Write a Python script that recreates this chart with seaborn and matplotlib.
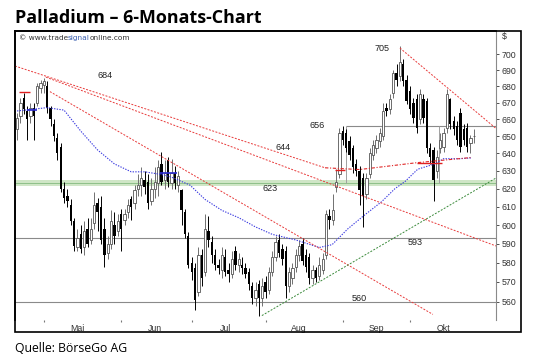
import numpy as np
import pandas as pd
import seaborn as sns
import matplotlib
matplotlib.use('Agg')
import matplotlib.pyplot as plt
from matplotlib.patches import Rectangle
from matplotlib.ticker import FixedLocator, NullLocator, FixedFormatter

# daily candles (USD), trading days from 19 Apr 2012
opens = [654, 662, 673, 665, 662, 667, 670, 679, 681, 680, 667, 657, 649, 644, 620, 616,
         611, 602, 588, 595, 588, 598, 592, 601, 612, 610, 598, 585, 590, 600, 597, 606,
         603, 607, 614, 612, 620, 622, 625, 624, 613, 620, 623, 634, 625, 636, 623, 629,
         622, 619, 607, 594, 580, 577, 565, 584, 575, 597, 591, 584, 579, 576, 583, 576,
         574, 586, 579, 579, 577, 575, 568, 562,
         569, 562, 570, 566, 575, 583, 592, 587, 586, 568, 572, 578, 584, 590, 584, 583,
         572, 576, 573, 576, 584, 605, 603, 621, 628, 653, 652, 647, 643, 634, 630, 626,
         617, 628, 639, 643, 647, 650, 667, 666,
         676, 688, 686, 694, 684, 677, 670, 672, 660, 672, 671, 643, 642, 630, 643, 644,
         655, 672, 659, 656, 664, 654, 655, 646, 650]
highs = [664, 673, 676, 668, 670, 670, 682, 684, 685, 683, 668, 660, 652, 646, 624, 620,
         614, 604, 598, 600, 602, 604, 604, 618, 615, 616, 604, 594, 608, 607, 606, 609,
         609, 614, 616, 622, 628, 632, 630, 628, 626, 632, 636, 641, 636, 638, 637, 633,
         630, 620, 609, 596, 583, 580, 588, 587, 606, 605, 594, 587, 582, 588, 587, 580,
         586, 589, 585, 583, 580, 577, 570, 570,
         571, 572, 573, 578, 586, 594, 595, 590, 589, 578, 580, 587, 592, 593, 587, 585,
         579, 578, 583, 585, 608, 609, 617, 631, 655, 656, 654, 650, 645, 637, 633, 629,
         629, 643, 648, 651, 655, 670, 670, 675,
         690, 694, 705, 697, 687, 680, 673, 675, 678, 675, 673, 646, 644, 642, 652, 655,
         678, 673, 662, 659, 667, 657, 658, 651, 654]
lows = [648, 658, 663, 648, 658, 648, 668, 676, 676, 664, 656, 647, 636, 618, 612, 610,
        600, 586, 586, 585, 584, 588, 590, 598, 597, 590, 578, 582, 587, 590, 594, 586,
        600, 604, 603, 609, 616, 616, 617, 609, 611, 615, 616, 622, 620, 621, 620, 620,
        618, 600, 593, 577, 571, 556, 563, 568, 573, 588, 580, 576, 574, 572, 573, 570,
        572, 576, 575, 574, 572, 566, 559, 558,
        553, 558, 562, 564, 573, 581, 583, 579, 562, 565, 569, 575, 581, 579, 575, 569,
        569, 570, 571, 574, 582, 598, 600, 618, 626, 645, 641, 636, 629, 627, 611, 599,
        614, 626, 636, 640, 644, 648, 662, 663,
        673, 680, 683, 680, 669, 663, 658, 652, 657, 658, 640, 634, 613, 626, 640, 641,
        652, 654, 651, 645, 641, 645, 641, 640, 646]
closes = [661, 670, 666, 660, 667, 662, 680, 682, 683, 667, 660, 650, 640, 620, 615, 613,
          602, 589, 593, 587, 597, 590, 598, 611, 607, 592, 584, 590, 602, 594, 602, 598,
          606, 611, 610, 619, 622, 626, 621, 612, 620, 624, 632, 624, 629, 624, 629, 623,
          627, 608, 595, 579, 575, 561, 584, 572, 598, 592, 584, 579, 577, 584, 575, 574,
          582, 579, 582, 577, 574, 569, 562, 566,
          562, 568, 565, 575, 583, 591, 585, 582, 568, 575, 577, 584, 589, 581, 578, 572,
          576, 572, 579, 582, 606, 603, 608, 624, 652, 648, 643, 639, 632, 630, 619, 616,
          626, 640, 645, 648, 652, 665, 665, 672,
          688, 684, 695, 683, 671, 666, 661, 655, 675, 661, 643, 638, 625, 638, 648, 652,
          675, 657, 654, 648, 644, 648, 644, 649, 650]

# indicator lines: (trading-day index, price)
blue_ma_x = [0, 9, 14, 19, 24, 29, 34, 38, 43, 46, 51.5, 56, 61, 66, 71, 76, 83, 90,
             93.8, 98.5, 103.5, 108.5, 112.5, 115.5, 119.3, 124.4, 127, 132, 135.5]
blue_ma_y = [665, 667, 665.5, 653, 642, 634, 629.5, 629.5, 628, 626.5, 622, 614, 608,
             604, 599, 595, 592, 588, 589.5, 598, 605.5, 612.7, 620, 624, 631, 634, 637,
             637, 637.5]
red_ma_x = [91.7, 102, 119, 135.4]
red_ma_y = [631.8, 630.8, 634.7, 637.7]
red_trend_x = [(-0.6, 91.7), (8.6, 142.6), (9.8, 123.8), (114, 142.6)]
red_trend_y = [(692.5, 631.8), (685.6, 588.8), (676.7, 553.6), (703.8, 654.6)]
green_trend_x = [72.9, 142.6]
green_trend_y = [553.0, 626.0]
support_levels = [593, 560]
band_level = 623
box_top = 656
box_x = [97.9, 125.6]

level_text = ['684', '656', '644', '705', '623', '593', '560']
level_text_x = [26.2, 89.3, 79.2, 108.6, 75.3, 118.5, 102]
level_text_y = [686.9, 656.6, 643.7, 703.2, 620.2, 590.8, 561.5]

month_names = ['Mai', 'Jun', 'Jul', 'Aug', 'Sep', 'Okt']
price_ticks = list(range(560, 701, 10))

sns.set_style('white')
plt.rcParams['font.family'] = ['Liberation Sans', 'DejaVu Sans']

W, H = 540, 358
fig = plt.figure(figsize=(W / 100, H / 100), dpi=100)
ax = fig.add_axes([15 / W, 1 - 320 / H, 481 / W, 289 / H])

o = np.array(opens, float)
h = np.array(highs, float)
l = np.array(lows, float)
c = np.array(closes, float)
idx = np.arange(len(c))
up = c >= o

ax.set_yscale('log')

# levels
ax.axhspan(band_level - 1.7, band_level + 1.7, color='#cfe6c6', lw=0, zorder=1)
ax.axhline(band_level, color='#8fc08a', lw=0.7, zorder=1)
for lv in support_levels:
    ax.axhline(lv, color='#8a8a8a', lw=0.8, zorder=1)
ax.hlines(box_top, box_x[0], 142.6, color='#8a8a8a', lw=0.8, zorder=1)
ax.vlines(box_x, band_level, box_top, color='#a0a0a0', lw=0.7, zorder=1)

# candles
ax.vlines(idx[up], l[up], h[up], color='#707070', lw=0.7, zorder=3)
ax.vlines(idx[~up], l[~up], h[~up], color='black', lw=0.7, zorder=3)
ax.bar(idx[up], (c - o)[up], bottom=o[up], width=0.7, color='white',
       edgecolor='#555555', lw=0.6, zorder=4)
ax.bar(idx[~up], (o - c)[~up], bottom=c[~up], width=0.7, color='black', lw=0, zorder=4)

# moving averages and trend lines
sns.lineplot(x=blue_ma_x, y=blue_ma_y, ax=ax, color='#3a3ae0', lw=0.8,
             linestyle=(0, (1.2, 1.2)), zorder=5)
sns.lineplot(x=red_ma_x, y=red_ma_y, ax=ax, color='#e02828', lw=0.8,
             linestyle=(0, (3, 1.5, 1, 1.5)), zorder=5)
for tx, ty in zip(red_trend_x, red_trend_y):
    ax.plot(tx, ty, color='#e83a3a', lw=0.7, linestyle=(0, (2, 1.5)), zorder=5)
ax.plot(green_trend_x, green_trend_y, color='#3a8a3a', lw=0.7,
        linestyle=(0, (2, 1.5)), zorder=5)

# signal markers
ax.hlines([676.3, 630.8, 634.7], [0.6, 94.6, 119], [3.9, 97.6, 126.5],
          color='#e02020', lw=1.0, zorder=6)
ax.hlines([665.8, 629], [3, 42.6], [6, 47.6], color='#2a2ad0', lw=1.2, zorder=6)

for t, tx, ty in zip(level_text, level_text_x, level_text_y):
    ax.text(tx, ty, t, fontsize=6.5, ha='center', va='center', color='#222222', zorder=7)

ax.set_xlim(-0.6, 142.6)
ax.set_ylim(550.8, 714.7)

# axes, ticks
ax.yaxis.tick_right()
ax.yaxis.set_major_locator(FixedLocator(price_ticks))
ax.yaxis.set_major_formatter(FixedFormatter([str(v) for v in price_ticks]))
ax.yaxis.set_minor_locator(NullLocator())
ax.tick_params(axis='y', which='major', direction='out', length=2, width=0.6,
               pad=2, labelsize=6.3, colors='#333333', right=True, left=False)

dates = pd.bdate_range('2012-04-19', periods=len(c))
month_start = [i for i in range(1, len(dates)) if dates[i].month != dates[i - 1].month]
month_mid = [next(i for i in range(len(dates))
                  if dates[i].month == m and dates[i].day >= 15) for m in range(5, 11)]
ax.set_xticks(month_mid)
ax.set_xticklabels(month_names)
ax.set_xticks(month_start, minor=True)
ax.tick_params(axis='x', which='major', length=0, pad=3, labelsize=6.3, colors='#333333')
ax.tick_params(axis='x', which='minor', direction='out', length=1.5, width=0.8,
               color='#777777', bottom=True)

for s in ['left', 'top']:
    ax.spines[s].set_color('black')
    ax.spines[s].set_linewidth(1.2)
ax.spines['right'].set_color('#8a8a8a')
ax.spines['right'].set_linewidth(0.8)
ax.spines['bottom'].set_visible(False)

fig.add_artist(Rectangle((15 / W, 1 - 332 / H), 506 / W, 301 / H, transform=fig.transFigure,
                         fill=False, ec='black', lw=1.2))

# watermark, "signal" in blue
wm = ax.text(0.008, 0.985, '\u00a9 www.trade', transform=ax.transAxes,
             fontsize=5.3, ha='left', va='top', color='#333333', family='DejaVu Sans')
wm2 = ax.annotate('signal', xy=(1, 0), xycoords=wm, fontsize=5.3, ha='left',
                  va='bottom', color='#3a5fb0', family='DejaVu Sans')
ax.annotate('online.com', xy=(1, 0), xycoords=wm2, fontsize=5.3, ha='left',
            va='bottom', color='#333333', family='DejaVu Sans')
fig.text(502 / W, 1 - 36 / H, '$', fontsize=6.3, ha='left', va='center', color='#333333')

fig.text(15 / W, 1 - 23 / H, 'Palladium \u2013 6-Monats-Chart', fontsize=12.9,
         fontweight='bold', family=['Open Sans', 'DejaVu Sans'], va='baseline', ha='left',
         color='black')
fig.text(15 / W, 1 - 352 / H, 'Quelle: B\u00f6rseGo AG', fontsize=8.8,
         family=['Open Sans', 'DejaVu Sans'], va='baseline', ha='left', color='black')

fig.savefig('out.png', dpi=100)
